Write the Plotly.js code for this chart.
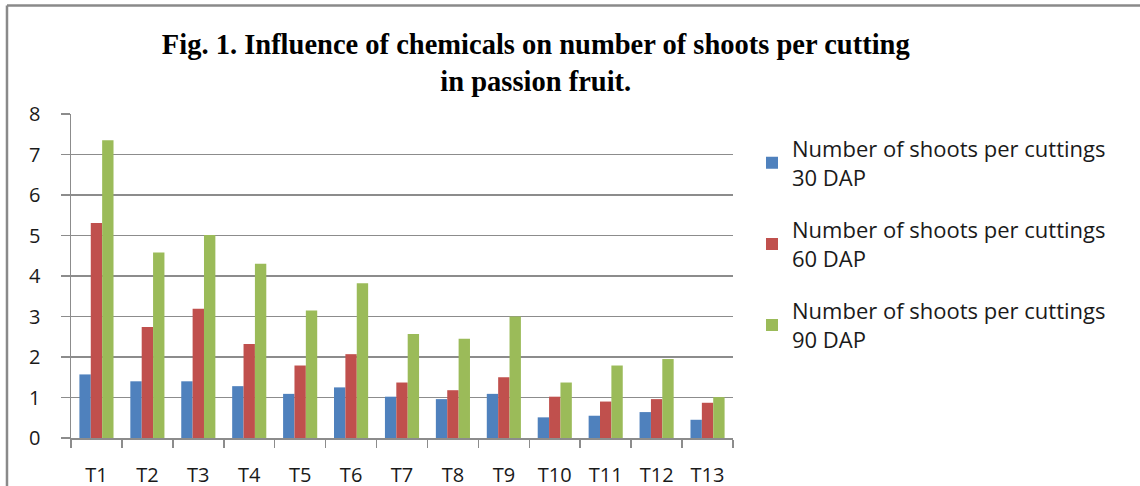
<!DOCTYPE html>
<html>
<head>
<meta charset="utf-8">
<script src="https://cdn.plot.ly/plotly-3.0.1.min.js"></script>
<style>
  html, body { margin: 0; padding: 0; background: #ffffff; }
  #chart { width: 1140px; height: 486px; }
</style>
</head>
<body>
<div id="chart"></div>
<script>
const categories = ["T1","T2","T3","T4","T5","T6","T7","T8","T9","T10","T11","T12","T13"];
const shoots30 = [1.57, 1.40, 1.40, 1.28, 1.09, 1.25, 1.02, 0.96, 1.09, 0.51, 0.55, 0.64, 0.45];
const shoots60 = [5.31, 2.74, 3.19, 2.32, 1.79, 2.07, 1.37, 1.18, 1.50, 1.02, 0.90, 0.96, 0.87];
const shoots90 = [7.35, 4.58, 5.01, 4.30, 3.15, 3.82, 2.57, 2.45, 3.00, 1.37, 1.79, 1.95, 1.01];
const seriesNames = [
  "Number of shoots per cuttings<br>30 DAP",
  "Number of shoots per cuttings<br>60 DAP",
  "Number of shoots per cuttings<br>90 DAP"
];
const yTicks = [0,1,2,3,4,5,6,7,8];
const titleText = "Fig. 1. Influence of chemicals on number of shoots per cutting<br>in passion fruit.";

const colors = ["#4F81BD", "#C0504D", "#9BBB59"];
const seriesValues = [shoots30, shoots60, shoots90];

const traces = seriesValues.map((vals, i) => ({
  type: "bar",
  x: categories,
  y: vals,
  name: seriesNames[i],
  legendgroup: "g" + i,
  marker: { color: colors[i], line: { width: 0 } },
  hoverinfo: "x+y"
}));

const sans = "'Open Sans', Lato, sans-serif";
const gray = "#8c8c8c";
const layout = {
  width: 1140,
  height: 486,
  paper_bgcolor: "#ffffff",
  plot_bgcolor: "#ffffff",
  margin: { l: 71, r: 407, t: 114, b: 48, pad: 0 },
  font: { family: sans, size: 20, color: "#1a1a1a" },
  title: {
    text: titleText,
    font: { family: "'Liberation Serif', 'Times New Roman', serif", size: 28.5, color: "#000000", weight: "bold" },
    x: 0.47, xanchor: "center", xref: "container",
    y: 0.888, yanchor: "top", yref: "container"
  },
  barmode: "group",
  bargap: 0.33,
  bargroupgap: 0,
  showlegend: true,
  legend: {
    x: 1.0287, xanchor: "left",
    y: 0.958, yanchor: "top",
    traceorder: "grouped",
    tracegroupgap: 21,
    font: { family: sans, size: 22, color: "#1a1a1a" },
    bgcolor: "rgba(0,0,0,0)",
    borderwidth: 0
  },
  xaxis: {
    type: "category",
    tickson: "boundaries",
    ticks: "outside",
    ticklen: 8,
    tickwidth: 1.5,
    tickcolor: gray,
    showline: true,
    linecolor: gray,
    linewidth: 1.5,
    showgrid: false,
    ticklabelstandoff: 18,
    tickfont: { family: sans, size: 20, color: "#1a1a1a" },
    fixedrange: true
  },
  yaxis: {
    range: [0, 8],
    tickvals: yTicks,
    ticktext: yTicks.map(String),
    ticks: "outside",
    ticklen: 9,
    tickwidth: 1.5,
    tickcolor: gray,
    showline: true,
    linecolor: gray,
    linewidth: 1.5,
    showgrid: true,
    gridcolor: gray,
    gridwidth: 1.5,
    zeroline: false,
    ticklabelstandoff: 16,
    tickfont: { family: sans, size: 20, color: "#1a1a1a" },
    fixedrange: true
  },
  shapes: [
    { type: "line", xref: "paper", yref: "paper", x0: -0.0967, x1: 1.62, y0: 1.335, y1: 1.335,
      line: { color: "#8a8a8a", width: 2.5 } },
    { type: "line", xref: "paper", yref: "paper", x0: -0.0967, x1: -0.0967, y0: 1.335, y1: -0.2,
      line: { color: "#8a8a8a", width: 2.5 } }
  ]
};

Plotly.newPlot("chart", traces, layout, { displayModeBar: false, staticPlot: true });
</script>
</body>
</html>
